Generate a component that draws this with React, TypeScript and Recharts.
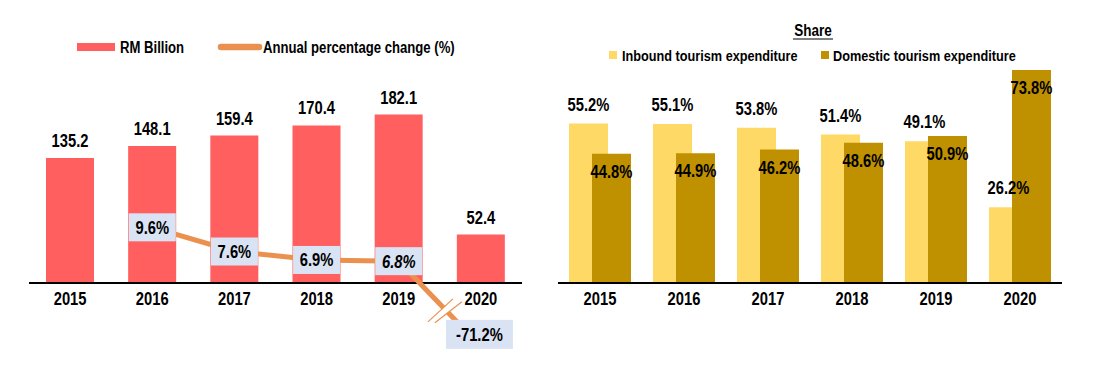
import React from 'react'
import { ComposedChart, BarChart, Bar, Line, XAxis, YAxis, LabelList } from 'recharts'

// data
const years = ['2015', '2016', '2017', '2018', '2019', '2020']
const rmBillion = [135.2, 148.1, 159.4, 170.4, 182.1, 52.4]
const annualChange: (number | null)[] = [null, 9.6, 7.6, 6.9, 6.8, -71.2]
const inboundShare = [55.2, 55.1, 53.8, 51.4, 49.1, 26.2]
const domesticShare = [44.8, 44.9, 46.2, 48.6, 50.9, 73.8]

const FONT = "'Liberation Sans', Arial, sans-serif"
const NARROW = 0.82 // squeeze Liberation Sans to look like Arial Narrow
const RED = '#FF5F5F'
const ORANGE = '#EB9150'
const BOX = '#DAE3F3'
const INBOUND = '#FFD966'
const DOMESTIC = '#BF9000'

const leftData = years.map((y, i) => ({ year: y, rm: rmBillion[i], pct: annualChange[i] }))
const rightData = years.map((y, i) => ({ year: y, inbound: inboundShare[i], domestic: domesticShare[i] }))

// broken axis: values under the break are squeezed, like the "//" in the original
const BREAK_AT = 5
const SQUEEZE = 0.0694

function brokenScale(dom: number[] = [0, 1], rng: number[] = [0, 1]): any {
  const t = (v: number) => (v >= BREAK_AT ? v : BREAK_AT - (BREAK_AT - v) * SQUEEZE)
  const s: any = (v: number) => {
    const t0 = t(dom[0])
    const t1 = t(dom[1])
    return rng[0] + ((t(v) - t0) / (t1 - t0)) * (rng[1] - rng[0])
  }
  s.domain = (d?: number[]) => {
    if (d === undefined) return dom
    dom = [...d]
    return s
  }
  s.range = (r?: number[]) => {
    if (r === undefined) return rng
    rng = [...r]
    return s
  }
  s.copy = () => brokenScale(dom, rng)
  s.ticks = () => dom
  return s
}

function NText({ x, y, children, size = 18, anchor = 'middle', italic = false }: any) {
  return (
    <text transform={`translate(${x},${y}) scale(${NARROW},1)`} textAnchor={anchor} fontSize={size}
      fontWeight={700} fontFamily={FONT} fontStyle={italic ? 'italic' : 'normal'} fill="#000">
      {children}
    </text>
  )
}

function YearTick(props: any) {
  const { x, y, payload } = props
  return <NText x={x} y={y + 14}>{payload.value}</NText>
}

const fmt1 = (v: any) => Number(v).toFixed(1)
const fmtPct = (v: any) => `${Number(v).toFixed(1)}%`

function TopLabel({ x, y, width, value, gap, pct }: any) {
  return <NText x={x + width / 2} y={y - gap}>{pct ? fmtPct(value) : fmt1(value)}</NText>
}

function InsideTopLabel({ x, y, width, value }: any) {
  return <NText x={x + width / 2} y={y + 24}>{fmtPct(value)}</NText>
}

function PctLabel(props: any) {
  const { x, y, value, index } = props
  if (value == null) return null
  const last = index === years.length - 1
  const w = last ? 67 : 47
  const h = last ? 29 : 28
  const cx = last ? x - 1.5 : x
  const cy = last ? y - 12.5 : y
  return (
    <g>
      {last && (
        <g>
          <line x1={x - 50} y1={y - 24} x2={x - 23} y2={y - 47} stroke="#fff" strokeWidth={6} />
          <line x1={x - 53} y1={y - 25} x2={x - 28} y2={y - 48} stroke={ORANGE} strokeWidth={1.2} />
          <line x1={x - 46} y1={y - 24} x2={x - 19} y2={y - 45} stroke={ORANGE} strokeWidth={1.2} />
        </g>
      )}
      <rect x={cx - w / 2} y={cy - h / 2} width={w} height={h} fill={BOX} />
      <NText x={cx} y={cy + 6.5} italic={index === 4}>{`${value.toFixed(1)}%`}</NText>
    </g>
  )
}

function Legends() {
  return (
    <svg width={1114} height={371} style={{ position: 'absolute', left: 0, top: 0, pointerEvents: 'none' }}>
      <rect x={77} y={43} width={38} height={8} fill={RED} />
      <NText x={120} y={52.5} size={16} anchor="start">RM Billion</NText>
      <line x1={221} y1={47} x2={259} y2={47} stroke={ORANGE} strokeWidth={6.5} strokeLinecap="round" />
      <NText x={263} y={52.5} size={16} anchor="start">Annual percentage change (%)</NText>

      <NText x={813} y={36} size={16.5}>Share</NText>
      <line x1={793} y1={39} x2={833} y2={39} stroke="#000" strokeWidth={1.2} />
      <rect x={609} y={51} width={8} height={8} fill={INBOUND} />
      <NText x={622} y={60.5} size={15.5} anchor="start">Inbound tourism expenditure</NText>
      <rect x={821} y={51} width={8} height={8} fill={DOMESTIC} />
      <NText x={833} y={60.5} size={15.5} anchor="start">Domestic tourism expenditure</NText>
    </svg>
  )
}

export default function App() {
  return (
    <div style={{ position: 'absolute', left: 0, top: 0, width: 1114, height: 371, background: '#fff', overflow: 'hidden' }}>
      <div style={{ position: 'absolute', left: 0, top: 0 }}>
        <BarChart width={560} height={371} data={leftData} margin={{ top: 98, right: 38, bottom: 58, left: 29 }}>
          <XAxis dataKey="year" height={30} tickLine={false} axisLine={{ stroke: '#000', strokeWidth: 2 }}
            tick={<YearTick />} interval={0} />
          <YAxis hide domain={[0, 200]} />
          <Bar dataKey="rm" fill={RED} barSize={48} isAnimationActive={false}>
            <LabelList dataKey="rm" content={<TopLabel gap={11} />} />
          </Bar>
        </BarChart>
      </div>
      <div style={{ position: 'absolute', left: 0, top: 0 }}>
        <ComposedChart width={560} height={371} data={leftData} margin={{ top: 98, right: 38, bottom: 0, left: 29 }}>
          <XAxis dataKey="year" hide scale="band" />
          <YAxis hide yAxisId="pct" scale={brokenScale()} domain={[-100, 20.3]} allowDataOverflow type="number" />
          <Line yAxisId="pct" dataKey="pct" stroke={ORANGE} strokeWidth={5} dot={false} activeDot={false}
            isAnimationActive={false}>
            <LabelList dataKey="pct" content={<PctLabel />} />
          </Line>
        </ComposedChart>
      </div>
      <div style={{ position: 'absolute', left: 556, top: 0 }}>
        <BarChart width={558} height={371} data={rightData} margin={{ top: 52, right: 52, bottom: 58, left: 2 }}
          barGap={-16}>
          <XAxis dataKey="year" height={30} tickLine={false} axisLine={{ stroke: '#000', strokeWidth: 2 }}
            tick={<YearTick />} interval={0} />
          <YAxis hide domain={[0, 80]} />
          <Bar dataKey="inbound" fill={INBOUND} barSize={39} isAnimationActive={false}>
            <LabelList dataKey="inbound" content={<TopLabel gap={13} pct />} />
          </Bar>
          <Bar dataKey="domestic" fill={DOMESTIC} barSize={39} isAnimationActive={false}>
            <LabelList dataKey="domestic" content={<InsideTopLabel />} />
          </Bar>
        </BarChart>
      </div>
      <Legends />
    </div>
  )
}
